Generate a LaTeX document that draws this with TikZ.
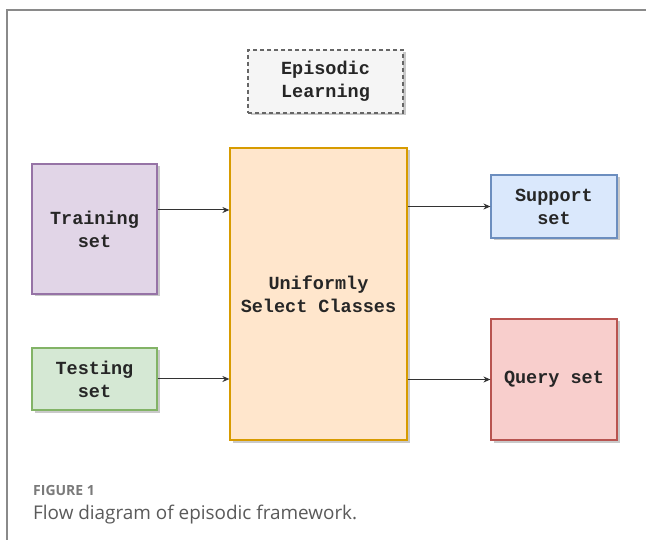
\documentclass[tikz,border=0pt]{standalone}
\usepackage{fontspec}
\setmainfont{Liberation Mono}
\newfontfamily\capfont{Open Sans}
\usetikzlibrary{arrows.meta,shadows}
\definecolor{frameC}{HTML}{8A8A8A}
\definecolor{purpleF}{HTML}{E1D5E7}\definecolor{purpleD}{HTML}{9673A6}
\definecolor{greenF}{HTML}{D5E8D4}\definecolor{greenD}{HTML}{82B366}
\definecolor{orangeF}{HTML}{FFE6CC}\definecolor{orangeD}{HTML}{D79B00}
\definecolor{blueF}{HTML}{DAE8FC}\definecolor{blueD}{HTML}{6C8EBF}
\definecolor{redF}{HTML}{F8CECC}\definecolor{redD}{HTML}{B85450}
\definecolor{grayF}{HTML}{F5F5F5}\definecolor{grayD}{HTML}{666666}
\definecolor{capA}{HTML}{7A7A7A}\definecolor{capB}{HTML}{5A5A5A}
\tikzset{
  box/.style={rectangle, line width=1.2pt, align=center,
    font=\fontsize{18.5}{23}\selectfont\bfseries, text=black!85,
    drop shadow={shadow xshift=2.5pt, shadow yshift=-2.5pt, opacity=0.35, fill=black!60}},
  arr/.style={draw=black!80, line width=1pt, -{Stealth[length=7pt,width=6pt]}},
}
\begin{document}
\begin{tikzpicture}[x=1pt,y=-1pt]
\useasboundingbox (0,0) rectangle (646,540);
\fill[white] (0,0) rectangle (646,540);
\draw[frameC, line width=1.5pt] (7,540) -- (7,10) -- (646,10);

\node[box, draw=grayD, fill=grayF, dashed, dash pattern=on 4pt off 3pt, minimum width=155pt, minimum height=63pt] (epi) at (325.5,81.5) {Episodic\\Learning};

\node[box, draw=purpleD, fill=purpleF, minimum width=125pt, minimum height=130pt] (train) at (94.5,229) {Training\\set};
\node[box, draw=greenD, fill=greenF, minimum width=125pt, minimum height=62pt] (test) at (94.5,379) {Testing\\set};
\node[box, draw=orangeD, fill=orangeF, minimum width=177pt, minimum height=292pt] (central) at (318.5,294) {Uniformly\\Select Classes};
\node[box, draw=blueD, fill=blueF, minimum width=126pt, minimum height=63pt] (support) at (554,206.5) {Support\\set};
\node[box, draw=redD, fill=redF, minimum width=126pt, minimum height=121pt] (query) at (554,379.5) {Query set};

\draw[arr] ([yshift=19pt]train.east) -- ([yshift=19pt]train.east -| central.west);
\draw[arr] (test.east) -- (test.east -| central.west);
\draw[arr] (central.east |- support.west) -- (support.west);
\draw[arr] (central.east |- query.west) -- (query.west);

\node[anchor=west, inner sep=0pt, font=\capfont\fontsize{14}{16}\selectfont\bfseries, text=capA] (figlabel) at (33,490) {FIGURE 1};
\node[anchor=west, inner sep=0pt, font=\capfont\fontsize{18.9}{21}\selectfont, text=capB] (caption) at (33,515) {Flow diagram of episodic framework.};
\end{tikzpicture}
\end{document}
